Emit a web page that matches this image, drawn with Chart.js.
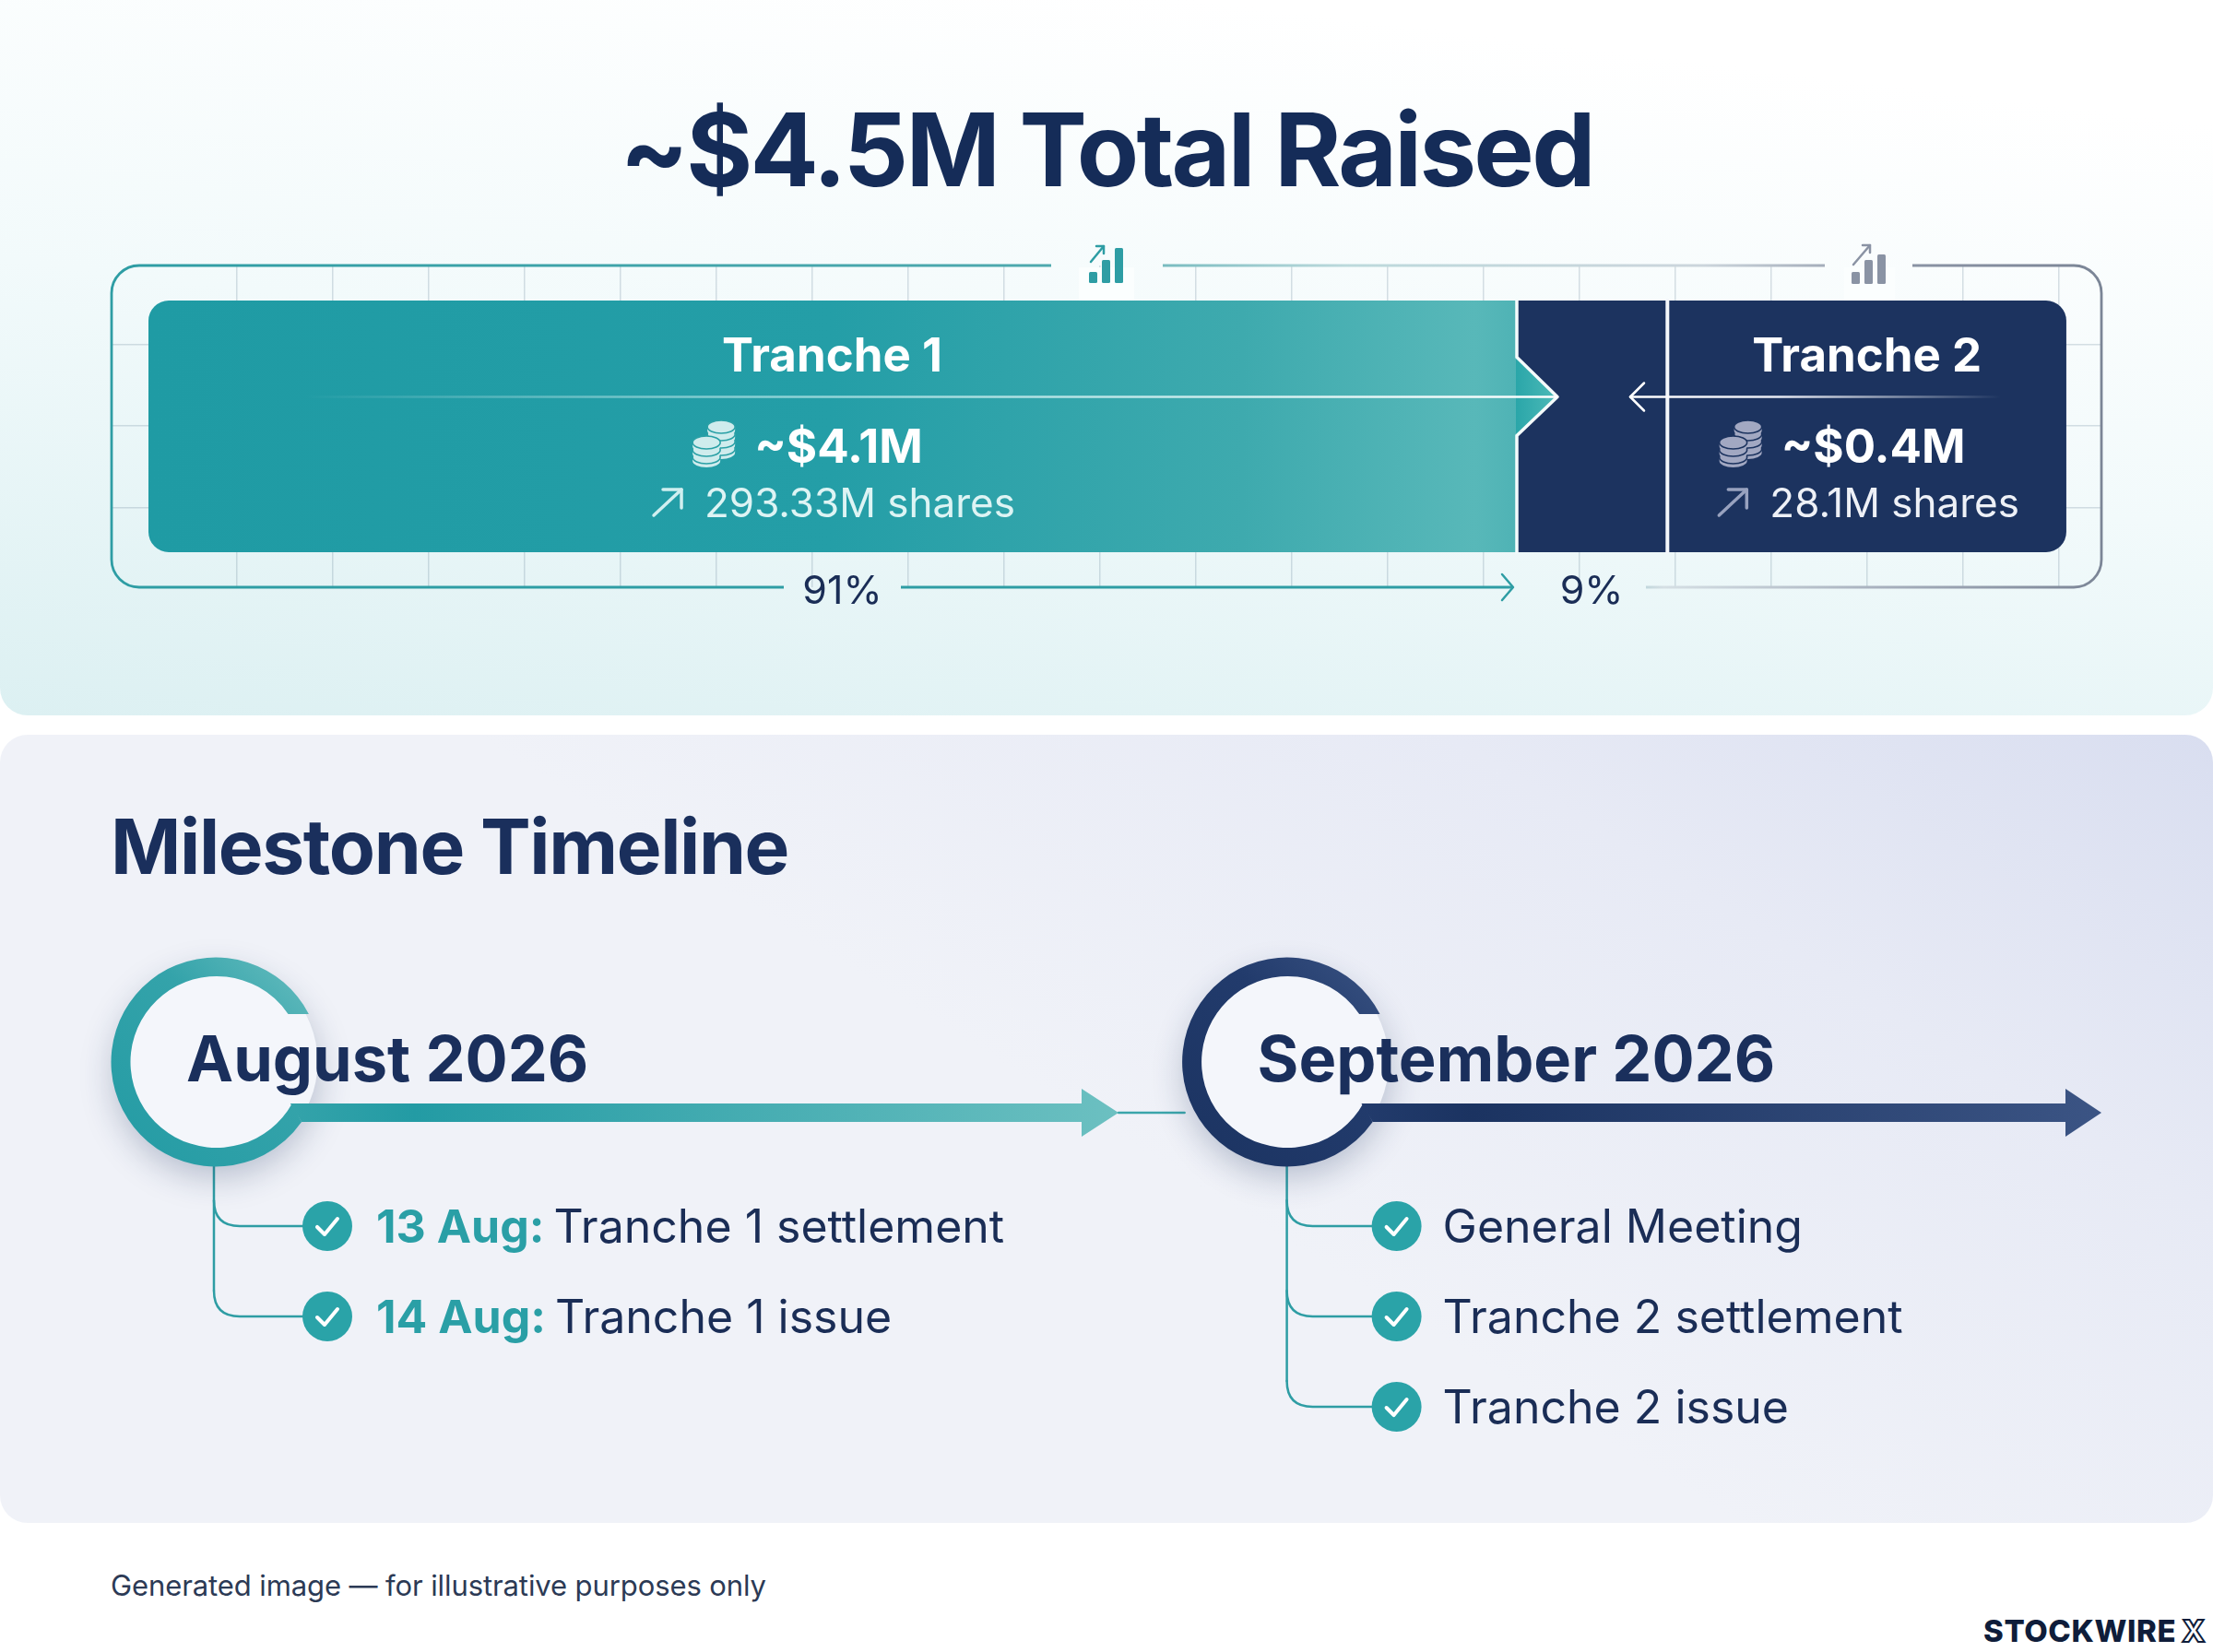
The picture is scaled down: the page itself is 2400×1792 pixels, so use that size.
<!DOCTYPE html>
<html lang="en">
<head>
<meta charset="utf-8">
<title>~$4.5M Total Raised</title>
<script src="https://cdn.jsdelivr.net/npm/chart.js@4"></script>
<style>
  html, body { margin: 0; padding: 0; background: #fff; }
  body { position: relative; width: 2400px; height: 1792px; overflow: hidden; font-family: Inter, "Noto Sans", sans-serif; }
  .panel { position: absolute; left: 0; width: 2400px; border-radius: 30px; }
  #panelTop { top: -30px; height: 806px; background: linear-gradient(187deg, #ffffff 15%, #f2fafb 55%, #dcf0f2 100%); }
  #panelBottom { top: 797px; height: 855px; background: linear-gradient(212deg, #d9def0 0%, #e7eaf5 22%, #f0f2f8 50%); }
  canvas { position: absolute; }
  #barCanvas { left: 100px; top: 250px; }
  #timelineCanvas { left: 0; top: 1000px; }
  .txt { position: absolute; line-height: 1; white-space: nowrap; margin: 0; }
  #mainTitle { left: 0; width: 2400px; text-align: center; top: 107px; font-size: 110px; font-weight: 700; letter-spacing: -2.7px; color: #152c58; }
  #timelineTitle { left: 120px; top: 878px; font-size: 82px; font-weight: 700; letter-spacing: -1.35px; color: #1a2f5c; }
  #footnote { left: 120px; top: 1704px; font-size: 31px; font-weight: 400; letter-spacing: -0.1px; color: #2c3a55; }
  #brand { left: 2151px; top: 1753px; font-size: 33px; font-weight: 800; color: #0f1d3a; letter-spacing: 0.6px; }
  #brand span { color: #fff; -webkit-text-stroke: 2px #0f1d3a; margin-left: 6px; }
</style>
</head>
<body>
<div class="panel" id="panelTop"></div>
<div class="panel" id="panelBottom"></div>

<h1 class="txt" id="mainTitle">~$4.5M Total Raised</h1>
<canvas id="barCanvas" width="2200" height="410"></canvas>

<h2 class="txt" id="timelineTitle">Milestone Timeline</h2>
<canvas id="timelineCanvas" width="2400" height="620"></canvas>

<div class="txt" id="footnote">Generated image — for illustrative purposes only</div>
<div class="txt" id="brand">STOCKWIRE<span>X</span></div>

<script>
/* =========================
   DATA
========================= */
const trancheNames = ["Tranche 1", "Tranche 2"];
const raisedM = [4.1, 0.4];
const sharesM = [293.33, 28.1];
const sharePct = [91, 9];

// Width of each block as drawn, in % of the whole bar. The picture is not to
// scale with sharePct, so these are read off the picture.
const tranche1Span = [71.3];
const bridgeSpan = [7.9];
const tranche2Span = [20.8];

const months = ["August 2026", "September 2026"];
const milestoneMonth = [0, 0, 1, 1, 1];
const milestoneRow = [0, 1, 0, 1, 2];
const milestoneDate = ["13 Aug:", "14 Aug:", "", "", ""];
const milestoneText = [
  "Tranche 1 settlement",
  "Tranche 1 issue",
  "General Meeting",
  "Tranche 2 settlement",
  "Tranche 2 issue"
];

const NAVY = "#1c335f";
const INK = "#1a2d56";
const TEAL = "#2a9fa6";
const FONT = "Inter, 'Noto Sans', sans-serif";

// page position of the bar canvas, the overlay below is measured in page pixels
const OX = 100;
const OY = 250;

/* =========================
   HELPERS
========================= */
function text(ctx, str, x, y, font, color, align, spacing) {
  ctx.font = font + " " + FONT;
  ctx.fillStyle = color;
  ctx.textAlign = align || "left";
  ctx.textBaseline = "alphabetic";
  ctx.letterSpacing = (spacing || 0) + "px";
  ctx.fillText(str, x, y);
}

function line(ctx, pts, color, width) {
  ctx.beginPath();
  pts.forEach((p, i) => (i ? ctx.lineTo(p[0], p[1]) : ctx.moveTo(p[0], p[1])));
  ctx.strokeStyle = color;
  ctx.lineWidth = width;
  ctx.lineCap = "round";
  ctx.lineJoin = "round";
  ctx.stroke();
}

function fade(ctx, x0, x1, stops) {
  const g = ctx.createLinearGradient(x0, 0, x1, 0);
  stops.forEach(s => g.addColorStop(s[0], s[1]));
  return g;
}

function barIcon(ctx, x, bottom, heights, color, arrow) {
  ctx.fillStyle = color;
  heights.forEach((h, i) => {
    ctx.beginPath();
    ctx.roundRect(x + i * 14, bottom - h, 9, h, 1.5);
    ctx.fill();
  });
  line(ctx, [[arrow[0], arrow[1]], [arrow[2], arrow[3]]], color, 2.5);
  line(ctx, [[arrow[2] - 8, arrow[3]], [arrow[2], arrow[3]], [arrow[2], arrow[3] + 8]], color, 2.5);
}

function coinStack(ctx, cx, top, count, color, edge) {
  const rx = 15, ry = 7, gap = 8;
  for (let i = count - 1; i >= 0; i--) {
    const y = top + ry + i * gap;
    ctx.beginPath();
    ctx.ellipse(cx, y + 4, rx, ry, 0, 0, Math.PI * 2);
    ctx.rect(cx - rx, y, rx * 2, 4);
    ctx.fillStyle = color;
    ctx.fill();
    ctx.beginPath();
    ctx.ellipse(cx, y, rx, ry, 0, 0, Math.PI * 2);
    ctx.fillStyle = color;
    ctx.fill();
    ctx.strokeStyle = edge;
    ctx.lineWidth = 1.6;
    ctx.stroke();
  }
}

/* =========================
   BAR OVERLAY (frame, notch, labels)
========================= */
const frameBehind = {
  id: "frameBehind",
  beforeDatasetsDraw(chart) {
    const { ctx, chartArea: a, scales: { x } } = chart;
    const r = 30;
    const arrowX = x.getPixelForValue(tranche1Span[0]) - 3;
    const topGrad = fade(ctx, a.left, a.right, [
      [0, "#2e9da4"], [0.47, "#4ea9ae"], [0.62, "#bcd9dc"], [0.8, "#ccd5dc"], [0.9, "#8b94a5"], [1, "#7b8596"]
    ]);
    const botGrad = fade(ctx, a.left, a.right, [
      [0, "#2e9da4"], [0.7, "#2e9da4"], [0.78, "#d5dfe4"], [0.9, "#a3acba"], [1, "#7b8596"]
    ]);
    ctx.save();
    ctx.lineWidth = 2.8;
    ctx.lineCap = "butt";

    // top edge, broken around the two icons
    ctx.strokeStyle = topGrad;
    ctx.beginPath();
    ctx.moveTo(a.left, a.top + 120);
    ctx.lineTo(a.left, a.top + r);
    ctx.arcTo(a.left, a.top, a.left + r, a.top, r);
    ctx.lineTo(1140 - OX, a.top);
    ctx.moveTo(1261 - OX, a.top);
    ctx.lineTo(1979 - OX, a.top);
    ctx.moveTo(2074 - OX, a.top);
    ctx.lineTo(a.right - r, a.top);
    ctx.arcTo(a.right, a.top, a.right, a.top + r, r);
    ctx.lineTo(a.right, a.bottom - r);
    ctx.stroke();

    // bottom edge, broken around the two share labels
    ctx.strokeStyle = botGrad;
    ctx.beginPath();
    ctx.moveTo(a.left, a.top + 120);
    ctx.lineTo(a.left, a.bottom - r);
    ctx.arcTo(a.left, a.bottom, a.left + r, a.bottom, r);
    ctx.lineTo(850 - OX, a.bottom);
    ctx.moveTo(977 - OX, a.bottom);
    ctx.lineTo(arrowX, a.bottom);
    ctx.moveTo(1785 - OX, a.bottom);
    ctx.lineTo(a.right - r, a.bottom);
    ctx.arcTo(a.right, a.bottom, a.right, a.bottom - r, r);
    ctx.stroke();
    ctx.restore();

    line(ctx, [[arrowX - 12, a.bottom - 14], [arrowX, a.bottom], [arrowX - 12, a.bottom + 14]], "#2e9da4", 2.5);

    // the frame stops around the icons, the grid lines do too
    ctx.save();
    ctx.fillStyle = "#fbfefe";
    ctx.fillRect(1170 - OX, a.top + 2, 60, 36);
    ctx.fillRect(2000 - OX, a.top + 2, 55, 36);
    ctx.restore();

    barIcon(ctx, 1181 - OX, 307 - OY, [12, 25, 38], "#2e9da4", [1183 - OX, 284 - OY, 1197 - OX, 267 - OY]);
    barIcon(ctx, 2008 - OX, 308 - OY, [13, 26, 32], "#8a93a4", [2010 - OX, 287 - OY, 2028 - OX, 266 - OY]);
  }
};

const barOverlay = {
  id: "barOverlay",
  afterDatasetsDraw(chart) {
    const { ctx, scales: { x, y } } = chart;
    const first = chart.getDatasetMeta(0).data[0];
    const top = first.y - first.height / 2;
    const bottom = top + first.height;
    const mid = y.getPixelForValue(0) - 32;
    const split = x.getPixelForValue(tranche1Span[0]);
    const divider = x.getPixelForValue(tranche1Span[0] + bridgeSpan[0]);
    const tipX = split + 45;

    // teal notch pushing into the navy block
    ctx.beginPath();
    ctx.moveTo(split, mid - 43);
    ctx.lineTo(tipX, mid);
    ctx.lineTo(split, mid + 42);
    ctx.closePath();
    ctx.fillStyle = fade(ctx, split, tipX, [[0, "#2aa6a9"], [1, "#4dbab8"]]);
    ctx.fill();
    line(ctx, [[split + 1, top], [split + 1, mid - 43], [tipX, mid], [split + 1, mid + 42], [split + 1, bottom]], "#f4fbfb", 3.5);
    line(ctx, [[divider, top], [divider, bottom]], "#f4f7fb", 4);

    // thin lines running to the notch and away from the divider
    line(ctx, [[230, mid], [tipX, mid]], fade(ctx, 230, tipX, [[0, "rgba(255,255,255,0)"], [0.35, "rgba(200,240,240,.6)"], [1, "#ffffff"]]), 2.5);
    line(ctx, [[1768 - OX, mid], [2170 - OX, mid]], fade(ctx, 1768 - OX, 2170 - OX, [[0, "#ffffff"], [0.4, "#e6e9f2"], [1, "rgba(255,255,255,0)"]]), 2.5);
    line(ctx, [[1783 - OX, mid - 15], [1768 - OX, mid], [1783 - OX, mid + 15]], "#ffffff", 2.5);

    // tranche labels, centred on their blocks
    const blocks = [chart.getDatasetMeta(0).data[0], chart.getDatasetMeta(2).data[0]];
    const looks = [
      { coin: "#cfeced", edge: "#2aa0a6", sub: "#ddf4f4", arrow: "#d0eff0" },
      { coin: "#a2a8c2", edge: NAVY, sub: "#eef1f7", arrow: "#98a2bf" }
    ];
    trancheNames.forEach((name, i) => {
      const cx = blocks[i].x - (blocks[i].x - blocks[i].base) / 2;
      const look = looks[i];
      text(ctx, name, cx, 403 - OY, "700 51px", "#ffffff", "center");

      const money = "~$" + raisedM[i].toFixed(1) + "M";
      text(ctx, money, cx + 7, 502 - OY, "700 51px", "#ffffff", "center");
      const moneyLeft = cx + 7 - ctx.measureText(money).width / 2;
      coinStack(ctx, moneyLeft - 36, 456 - OY, 4, look.coin, look.edge);
      coinStack(ctx, moneyLeft - 52, 473 - OY, 3, look.coin, look.edge);

      const shares = sharesM[i] + "M shares";
      text(ctx, shares, cx + 30, 561 - OY, "400 44px", look.sub, "center");
      const shareLeft = cx + 30 - ctx.measureText(shares).width / 2;
      line(ctx, [[shareLeft - 55, 559 - OY], [shareLeft - 25, 531 - OY]], look.arrow, 3.5);
      line(ctx, [[shareLeft - 45, 531 - OY], [shareLeft - 25, 531 - OY], [shareLeft - 25, 551 - OY]], look.arrow, 3.5);
    });

    // share labels under the bar
    const bridgeMid = (split + divider) / 2;
    const pctX = [blocks[0].x - (blocks[0].x - blocks[0].base) / 2 + 11, bridgeMid];
    sharePct.forEach((p, i) => text(ctx, p + "%", pctX[i], 655 - OY, "400 43px", INK, "center"));
  }
};

/* =========================
   BAR CHART
========================= */
new Chart(document.getElementById("barCanvas"), {
  type: "bar",
  data: {
    labels: ["Raised"],
    datasets: [
      {
        label: trancheNames[0],
        data: tranche1Span,
        borderSkipped: false,
        borderRadius: { topLeft: 22, bottomLeft: 22, topRight: 0, bottomRight: 0 },
        backgroundColor(c) {
          if (!c.chart.chartArea) return "#249ea7";
          const x = c.chart.scales.x;
          return fade(c.chart.ctx, x.getPixelForValue(0), x.getPixelForValue(tranche1Span[0]), [
            [0, "#1f9ba4"], [0.5, "#249ea7"], [0.8, "#3eaaae"], [0.97, "#58b8b9"], [1, "#4fb3b5"]
          ]);
        }
      },
      { label: "Bridge", data: bridgeSpan, backgroundColor: NAVY, borderSkipped: false },
      {
        label: trancheNames[1],
        data: tranche2Span,
        backgroundColor: NAVY,
        borderSkipped: false,
        borderRadius: { topLeft: 0, bottomLeft: 0, topRight: 22, bottomRight: 22 }
      }
    ]
  },
  options: {
    indexAxis: "y",
    responsive: false,
    animation: false,
    devicePixelRatio: 1,
    layout: { autoPadding: false, padding: { left: 21, right: 21, top: 38, bottom: 23 } },
    plugins: { legend: { display: false }, tooltip: { enabled: false } },
    datasets: { bar: { categoryPercentage: 1, barPercentage: 0.782 } },
    scales: {
      x: {
        stacked: true,
        bounds: "data",
        min: -1.923,
        max: 101.83,
        border: { display: false },
        ticks: { display: false },
        grid: { color: "rgba(105,130,150,.25)", lineWidth: 1.5, drawTicks: false },
        afterBuildTicks(axis) {
          const t = [];
          for (let v = 4.6; v < 100; v += 5) t.push({ value: v });
          axis.ticks = t;
        }
      },
      y: {
        stacked: true,
        border: { display: false },
        ticks: { display: false },
        grid: { display: false, drawTicks: false }
      },
      rows: {
        axis: "y",
        type: "linear",
        position: "right",
        bounds: "data",
        offset: false,
        min: 0,
        max: 349,
        border: { display: false },
        ticks: { display: false },
        grid: { offset: false, color: "rgba(105,130,150,.25)", lineWidth: 1.5, drawTicks: false },
        afterBuildTicks(axis) {
          // measured upwards from the frame's bottom edge
          axis.ticks = [86, 175, 263].map(v => ({ value: v }));
        }
      }
    }
  },
  plugins: [frameBehind, barOverlay]
});

/* =========================
   TIMELINE OVERLAY
========================= */
function monthRing(ctx, cx, cy, colors, shaftEnd, tipEnd) {
  const R = 113.5, innerRx = 93.5, innerRy = 93;
  const shaftTop = cy + 45, shaftBot = cy + 65;

  // white disc with the soft drop shadow
  ctx.save();
  ctx.shadowColor = "rgba(30,50,95,.28)";
  ctx.shadowBlur = 36;
  ctx.shadowOffsetY = 14;
  ctx.beginPath();
  ctx.arc(cx, cy, R - 3, 0, Math.PI * 2);
  ctx.fillStyle = "#f4f6fb";
  ctx.fill();
  ctx.restore();

  // open ring, cut flat at the top right
  const topEnd = Math.asin(52 / R);
  const lowEnd = Math.asin(65 / R);
  const innerCx = cx + 1;
  const innerTop = Math.asin(52 / innerRy);
  const innerLow = Math.asin(45 / innerRy);
  const ringGrad = ctx.createLinearGradient(cx - R, cy + R, cx + R, cy - R);
  ringGrad.addColorStop(0, colors[0]);
  ringGrad.addColorStop(0.6, colors[1]);
  ringGrad.addColorStop(1, colors[2]);
  ctx.beginPath();
  ctx.arc(cx, cy, R, -topEnd, lowEnd, true);
  ctx.ellipse(innerCx, cy, innerRx, innerRy, 0, innerLow, -innerTop, false);
  ctx.closePath();
  ctx.fillStyle = ringGrad;
  ctx.fill();

  // shaft and arrow head
  const startX = innerCx + innerRx * Math.cos(innerLow) - 2;
  ctx.beginPath();
  ctx.moveTo(startX, shaftTop);
  ctx.lineTo(shaftEnd, shaftTop);
  ctx.lineTo(shaftEnd, cy + 29);
  ctx.lineTo(tipEnd, cy + 55);
  ctx.lineTo(shaftEnd, cy + 81);
  ctx.lineTo(shaftEnd, shaftBot);
  ctx.lineTo(cx + R * Math.cos(lowEnd), shaftBot);
  ctx.closePath();
  ctx.fillStyle = fade(ctx, startX, tipEnd, [[0, colors[1]], [0.15, colors[0]], [1, colors[2]]]);
  ctx.fill();
}

const timelineBehind = {
  id: "timelineBehind",
  beforeDatasetsDraw(chart) {
    const { ctx, scales: { x, y } } = chart;
    const ringDx = [-121, -119];
    const ringLook = [
      { colors: ["#239ba4", "#34a3aa", "#6cc0c1"], shaftEnd: 1173, tip: 1213, stem: -2, labelDx: -32 },
      { colors: ["#1b3361", "#223b6c", "#3b5484"], shaftEnd: 2240, tip: 2279, stem: 0, labelDx: -32 }
    ];
    const cy = y.getPixelForValue(0) - 178;

    // small link between the two month arrows
    line(ctx, [[ringLook[0].tip, cy + 55], [x.getPixelForValue(1) - 230, cy + 55]], "#3aa5aa", 2.5);

    months.forEach((m, i) => {
      const cx = x.getPixelForValue(i) + ringDx[i];
      const look = ringLook[i];
      const stem = cx + look.stem;

      // connectors from the ring down to each check
      const rows = milestoneRow.filter((_, k) => milestoneMonth[k] === i);
      const last = y.getPixelForValue(rows[rows.length - 1]);
      const r = 28;
      ctx.beginPath();
      ctx.moveTo(stem, cy + 113);
      ctx.lineTo(stem, last - r);
      ctx.strokeStyle = "#2e9da4";
      ctx.lineWidth = 2.5;
      ctx.stroke();
      rows.forEach(row => {
        const py = y.getPixelForValue(row);
        ctx.beginPath();
        ctx.moveTo(stem, py - r);
        ctx.quadraticCurveTo(stem, py, stem + r, py);
        ctx.lineTo(x.getPixelForValue(i) - 20, py);
        ctx.stroke();
      });

      monthRing(ctx, cx, cy, look.colors, look.shaftEnd, look.tip);
      text(ctx, m, cx + look.labelDx, 1173 - 1000, "700 68.5px", "#1a2f5c");
    });
  }
};

const timelineLabels = {
  id: "timelineLabels",
  afterDatasetsDraw(chart) {
    const { ctx } = chart;
    chart.getDatasetMeta(0).data.forEach((pt, i) => {
      line(ctx, [[pt.x - 11, pt.y + 1], [pt.x - 3, pt.y + 9], [pt.x + 11, pt.y - 8]], "#ffffff", 4);

      const baseline = pt.y + 18;
      let tx = pt.x + 50;
      if (milestoneDate[i]) {
        tx = pt.x + 53;
        text(ctx, milestoneDate[i], tx, baseline, "700 50px", TEAL);
        tx += ctx.measureText(milestoneDate[i]).width + 10;
      }
      text(ctx, milestoneText[i], tx, baseline, "400 50px", INK);
    });
  }
};

/* =========================
   TIMELINE CHART
========================= */
new Chart(document.getElementById("timelineCanvas"), {
  type: "scatter",
  data: {
    datasets: [{
      label: "Milestones",
      data: milestoneMonth.map((m, i) => ({ x: m, y: milestoneRow[i] })),
      pointRadius: 27,
      pointBorderWidth: 0,
      pointBackgroundColor: "#2aa3a8"
    }]
  },
  options: {
    responsive: false,
    animation: false,
    devicePixelRatio: 1,
    layout: { autoPadding: false, padding: 0 },
    plugins: { legend: { display: false }, tooltip: { enabled: false } },
    scales: {
      x: { type: "linear", display: false, bounds: "data", min: -0.30614, max: 1.76354 },
      y: { type: "linear", display: false, bounds: "data", reverse: true, min: -3.367, max: 2.959 }
    }
  },
  plugins: [timelineBehind, timelineLabels]
});
</script>
</body>
</html>
